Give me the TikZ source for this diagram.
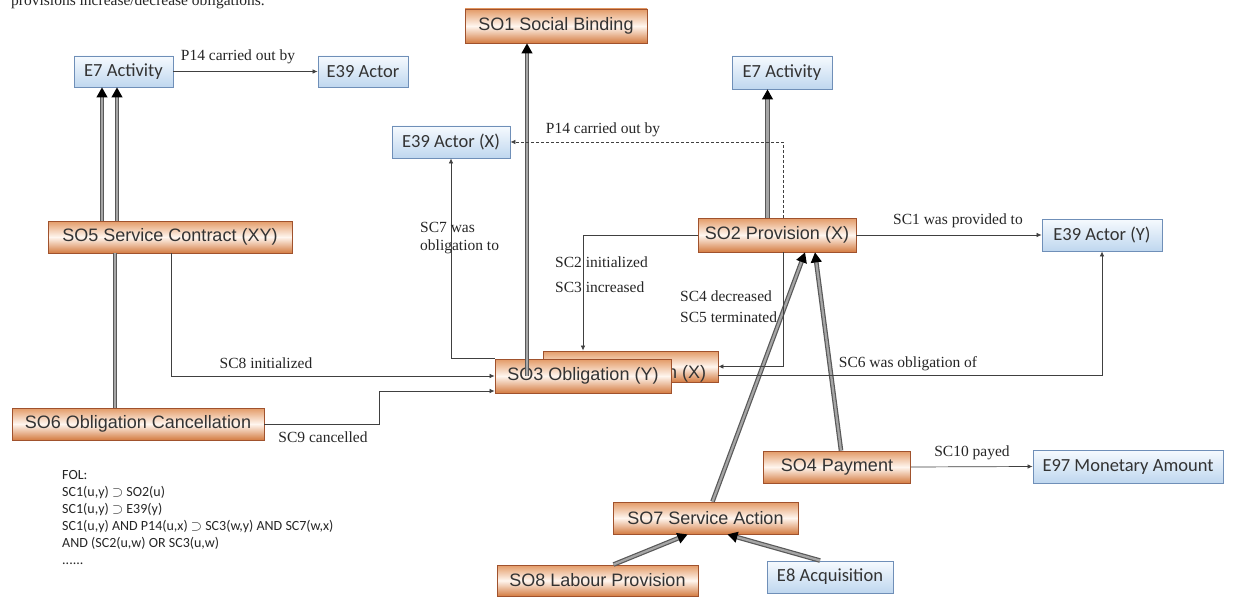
\documentclass[tikz,border=0pt]{standalone}
\usepackage{fontspec}
\setmainfont{Liberation Serif}
\newfontfamily\arialf{Liberation Sans}
\newfontfamily\calf{Carlito}
\usetikzlibrary{arrows.meta,calc}
\definecolor{orbd}{HTML}{A0522D}
\definecolor{ortop}{HTML}{E39A66}
\definecolor{ormid}{HTML}{FFF6EF}
\definecolor{orbot}{HTML}{D47C42}
\definecolor{blbd}{HTML}{6F8FB8}
\definecolor{bltop}{HTML}{F6FAFE}
\definecolor{blbot}{HTML}{BFD7EF}
\tikzset{
 obox/.style={draw=orbd, line width=0.9pt, top color=ortop, bottom color=orbot, middle color=ormid,
   font=\arialf\fontsize{18}{20}\selectfont, text=black!80, inner sep=0pt},
 bbox/.style={draw=blbd, line width=0.9pt, top color=bltop, bottom color=blbot,
   font=\calf\fontsize{18.5}{20}\selectfont, text=black!80, inner sep=0pt},
 lbl/.style={font=\fontsize{15.5}{17}\selectfont, text=black!85, inner sep=1pt},
 thn/.style={draw=black!75, line width=0.7pt, -{Latex[length=5pt,width=4.5pt]}},
 thkl/.style={draw=black!65, line width=1.2pt, double=gray!70, double distance=2.2pt},
 thk/.style={thkl, -{Triangle[length=10pt,width=11pt,black]}},
 fol/.style={font=\calf\fontsize{14}{17}\selectfont, align=left, inner sep=0pt, text=black!85}
}
\begin{document}
\begin{tikzpicture}[x=1pt,y=-1pt]
\useasboundingbox (0,0) rectangle (1235,607);
\clip (0,0) rectangle (1235,607);
\fill[white] (0,0) rectangle (1235,607);

\node[lbl, anchor=base west] (top) at (10,5.5) {provisions increase/decrease obligations.};

% nodes
\node[obox, minimum width=182pt, minimum height=34pt] (so1) at (556,26) {SO1 Social Binding};
\node[bbox, minimum width=99pt, minimum height=31pt] (e7a) at (123.5,71.5) {E7 Activity};
\node[bbox, minimum width=90pt, minimum height=31pt] (e39a) at (363,71.5) {E39 Actor};
\node[bbox, minimum width=100pt, minimum height=33pt] (e7b) at (782,72.5) {E7 Activity};
\node[bbox, minimum width=118pt, minimum height=32pt] (e39x) at (451,142) {E39 Actor (X)};
\node[obox, minimum width=244pt, minimum height=32pt] (so5) at (170,237) {SO5 Service Contract (XY)};
\node[obox, minimum width=158pt, minimum height=34pt] (so2) at (777,235) {SO2 Provision (X)};
\node[bbox, minimum width=120pt, minimum height=32pt] (e39y) at (1102,235) {E39 Actor (Y)};
\node[obox, minimum width=175pt, minimum height=31pt] (hid) at (630.5,366.5) {\raisebox{0pt}[24pt][0pt]{SO3 Obligation (X)}};
\node[obox, minimum width=176pt, minimum height=34pt] (so3) at (583,376) {SO3 Obligation (Y)};
\node[obox, minimum width=252pt, minimum height=32pt] (so6) at (138,424) {SO6 Obligation Cancellation};
\node[obox, minimum width=147pt, minimum height=32pt] (so4) at (837,467) {SO4 Payment};
\node[bbox, minimum width=190pt, minimum height=33pt] (e97) at (1128,466.5) {E97 Monetary Amount};
\node[obox, minimum width=185pt, minimum height=32pt] (so7) at (705.5,518) {SO7 Service Action};
\node[obox, minimum width=201pt, minimum height=31pt] (so8) at (597.5,580.5) {SO8 Labour Provision};
\node[bbox, minimum width=126pt, minimum height=32pt] (e8) at (830,577) {E8 Acquisition};

\node[fol, anchor=north west] (fol) at (62,470) {FOL:\\SC1(u,y) $\supset$ SO2(u)\\SC1(u,y) $\supset$ E39(y)\\SC1(u,y) AND P14(u,x) $\supset$ SC3(w,y) AND SC7(w,x)\\AND (SC2(u,w) OR SC3(u,w)\\......};

% helper coordinates
\coordinate (a1) at ([xshift=-21.5]e7a.south);
\coordinate (a2) at ([xshift=-6.5]e7a.south);
\coordinate (c65) at ([xshift=-23]so6.north);
\coordinate (c31) at ([xshift=-29]so1.south);
\coordinate (d1) at ([xshift=6]so2.north);
\coordinate (c27) at ([xshift=-14.5]e7b.south);
\coordinate (c22) at ([xshift=-47.5]hid.north);
\coordinate (c24) at ([xshift=6]so2.south);
\coordinate (s3b) at ([yshift=-15]so3.west);
\coordinate (k9) at (379,391);
\coordinate (s6) at ([yshift=-9]hid.east);

% thick connectors
\draw[thk] (so5.north -| a1) -- (a1);
\draw[thk] (so5.north -| a2) -- (a2);
\draw[thkl] (c65) -- (so5.south -| c65);
\draw[thk] (c31 |- so3.center) -- (c31);
\draw[thk] (so2.north -| c27) -- (c27);
\draw[thk] ([xshift=4]so4.north) -- ([xshift=38]so2.south);
\draw[thk] ([xshift=7]so7.north) -- ([xshift=28]so2.south);
\draw[thk] ([xshift=16]so8.north) -- ([xshift=-18]so7.south);
\draw[thk] ([xshift=-10]e8.north) -- ([xshift=22]so7.south);

% thin connectors
\draw[thn] (e7a.east) -- (e39a.west);
\draw[thn, dash pattern=on 3pt off 2pt] (d1) |- (e39x.east);
\draw[thn] (so3.north west) -| (e39x.south);
\draw[thn] (so2.west) -| (c22);
\draw[thn] (c24) |- (hid.east);
\draw[thn] (so2.east) -- (e39y.west);
\draw[thn] ([xshift=1]so5.south) |- (so3.west);
\draw[thn] (so6.east) -| (k9) -- (s3b);
\draw[thn] (s6) -| (e39y.south);
\draw[thn] (so4.east) -- (e97.west);

% labels
\node[lbl] (l1) at (238,57) {P14 carried out by};
\node[lbl] (l2) at (603,130) {P14 carried out by};
\node[lbl, anchor=west, align=left, font=\fontsize{15.5}{18}\selectfont] (l3) at (419,238) {SC7 was\\obligation to};
\node[lbl, anchor=west, align=left, font=\fontsize{15.5}{25}\selectfont] (l4) at (554,275) {SC2 initialized\\SC3 increased};
\node[lbl, anchor=west, align=left, font=\fontsize{15.5}{21}\selectfont] (l5) at (679,307) {SC4 decreased\\SC5 terminated};
\node[lbl] (l6) at (958,221) {SC1 was provided to};
\node[lbl] (l7) at (908,364) {SC6 was obligation of};
\node[lbl] (l8) at (266,363) {SC8 initialized};
\node[lbl] (l9) at (323,437) {SC9 cancelled};
\node[lbl] (l10) at (972,453) {SC10 payed};
\end{tikzpicture}
\end{document}
